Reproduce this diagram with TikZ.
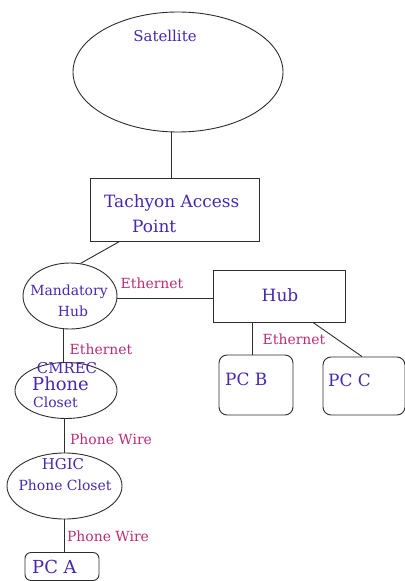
\documentclass[tikz,border=0pt]{standalone}
\usepackage{fontspec}
\setmainfont{DejaVu Serif}
\usetikzlibrary{shapes.geometric,calc}

\definecolor{nodeink}{RGB}{72,40,175}
\definecolor{wireink}{RGB}{185,45,120}
\definecolor{lineink}{RGB}{45,45,45}

\newcommand{\fs}[1]{\fontsize{#1}{#1}\selectfont}

\tikzset{
  shapeline/.style={draw=lineink, line width=0.9pt},
  oval/.style={shapeline, ellipse, inner sep=0pt},
  box/.style={shapeline, rectangle, inner sep=0pt},
  pcbox/.style={shapeline, rectangle, rounded corners=8bp, inner sep=0pt},
  wire/.style={draw=lineink, line width=0.9pt},
  elemtext/.style={text=nodeink, inner sep=0pt},
  medium/.style={text=wireink, inner sep=0pt, font=\fs{14}},
}

\begin{document}
\begin{tikzpicture}[x=1bp, y=-1bp]
  \useasboundingbox[fill=white] (0,0) rectangle (404,581);

  % network elements
  \node[oval, minimum width=210bp, minimum height=120bp] (sat) at (178,72) {};
  \node[box, minimum width=169bp, minimum height=63bp] (tap) at (174.5,209.5) {};
  \node[oval, minimum width=94bp, minimum height=66bp] (mand) at (70,296) {};
  \node[box, minimum width=132bp, minimum height=52bp] (hub) at (279,296) {};
  \node[pcbox, minimum width=74bp, minimum height=60bp] (pcb) at (256,385) {};
  \node[pcbox, minimum width=82bp, minimum height=58bp] (pcc) at (364,386) {};
  \node[oval, minimum width=102bp, minimum height=56bp] (cmrec) at (66,390.5) {};
  \node[oval, minimum width=115bp, minimum height=66bp] (hgic) at (64.5,486) {};
  \node[pcbox, rounded corners=6bp, minimum width=74bp, minimum height=28bp] (pca) at (62,566.5) {};

  % element names
  \node[elemtext, font=\fs{15}] (satT) at (165,36) {Satellite};
  \node[elemtext, font=\fs{17}, anchor=west] (tapT1) at (104,203) {Tachyon Access};
  \node[elemtext, font=\fs{17}, anchor=west] (tapT2) at (132,226) {Point};
  \node[elemtext, font=\fs{14}] (mandT1) at (69,292) {Mandatory};
  \node[elemtext, font=\fs{14}] (mandT2) at (73,311) {Hub};
  \node[elemtext, font=\fs{17}] (hubT) at (280,295) {Hub};
  \node[elemtext, font=\fs{17}, anchor=west] (pcbT) at (225,379) {PC B};
  \node[elemtext, font=\fs{17}, anchor=west] (pccT) at (328,380) {PC C};
  \node[elemtext, font=\fs{15}] (cmrecT1) at (67,368) {CMREC};
  \node[elemtext, font=\fs{18}, anchor=west] (cmrecT2) at (32,384) {Phone};
  \node[elemtext, font=\fs{14}, anchor=west] (cmrecT3) at (33,402) {Closet};
  \node[elemtext, font=\fs{15}] (hgicT1) at (63,464) {HGIC};
  \node[elemtext, font=\fs{14}] (hgicT2) at (65,485) {Phone Closet};
  \node[elemtext, font=\fs{18}, anchor=west] (pcaT) at (32,567) {PC A};

  % links
  \draw[wire] (sat.-96) -- (sat.-96 |- tap.north);
  \draw[wire] ($(tap.south west)+(30,0)$) -- (mand.72);
  \draw[wire] (mand.east |- 0,298) -- (hub.west |- 0,298);
  \draw[wire] ($(hub.south)+(-27,0)$) -- ($(pcb.north)+(-4,0)$);
  \draw[wire] ($(hub.south)+(34,0)$) -- ($(pcc.north)+(-2,0)$);
  \draw[wire] ($(mand.south)+(-7,0)$) -- ($(cmrec.north)+(-3,0)$);
  \draw[wire] (cmrec.south -| 64,0) -- (hgic.north -| 64,0);
  \draw[wire] (hgic.south -| 64,0) -- (pca.north -| 64,0);

  % link media
  \node[medium] (m1) at (152,283) {Ethernet};
  \node[medium] (m2) at (294,339) {Ethernet};
  \node[medium] (m3) at (101,349) {Ethernet};
  \node[medium] (m4) at (111,439) {Phone Wire};
  \node[medium] (m5) at (108,536) {Phone Wire};
\end{tikzpicture}
\end{document}
